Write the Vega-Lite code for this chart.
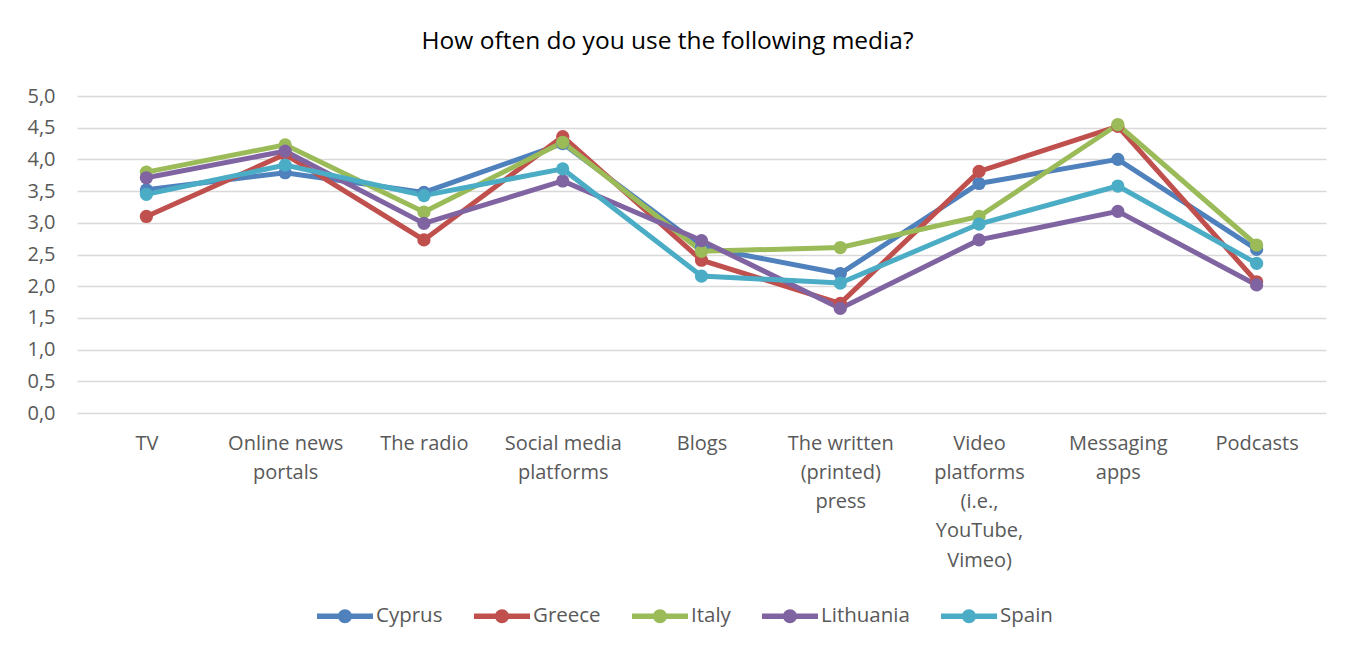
{
  "$schema": "https://vega.github.io/schema/vega-lite/v6.json",
  "autosize": {"type": "none"},
  "width": 1249,
  "height": 317,
  "padding": {"left": 77, "top": 96, "right": 34, "bottom": 238},
  "background": "white",
  "title": {
    "text": "How often do you use the following media?",
    "font": "Open Sans",
    "fontSize": 24.5,
    "fontWeight": "normal",
    "color": "#000000",
    "anchor": "middle",
    "dx": -34,
    "offset": 32
  },
  "config": {
    "view": {"stroke": null},
    "font": "Open Sans"
  },
  "data": {
    "values": [
      {"media": "TV", "country": "Cyprus", "value": 3.52},
      {"media": "Online news|portals", "country": "Cyprus", "value": 3.79},
      {"media": "The radio", "country": "Cyprus", "value": 3.48},
      {"media": "Social media|platforms", "country": "Cyprus", "value": 4.25},
      {"media": "Blogs", "country": "Cyprus", "value": 2.62},
      {"media": "The written|(printed)|press", "country": "Cyprus", "value": 2.2},
      {"media": "Video|platforms|(i.e.,|YouTube,|Vimeo)", "country": "Cyprus", "value": 3.62},
      {"media": "Messaging|apps", "country": "Cyprus", "value": 4.0},
      {"media": "Podcasts", "country": "Cyprus", "value": 2.58},

      {"media": "TV", "country": "Greece", "value": 3.1},
      {"media": "Online news|portals", "country": "Greece", "value": 4.08},
      {"media": "The radio", "country": "Greece", "value": 2.73},
      {"media": "Social media|platforms", "country": "Greece", "value": 4.36},
      {"media": "Blogs", "country": "Greece", "value": 2.41},
      {"media": "The written|(printed)|press", "country": "Greece", "value": 1.73},
      {"media": "Video|platforms|(i.e.,|YouTube,|Vimeo)", "country": "Greece", "value": 3.81},
      {"media": "Messaging|apps", "country": "Greece", "value": 4.52},
      {"media": "Podcasts", "country": "Greece", "value": 2.07},

      {"media": "TV", "country": "Italy", "value": 3.8},
      {"media": "Online news|portals", "country": "Italy", "value": 4.23},
      {"media": "The radio", "country": "Italy", "value": 3.17},
      {"media": "Social media|platforms", "country": "Italy", "value": 4.27},
      {"media": "Blogs", "country": "Italy", "value": 2.55},
      {"media": "The written|(printed)|press", "country": "Italy", "value": 2.61},
      {"media": "Video|platforms|(i.e.,|YouTube,|Vimeo)", "country": "Italy", "value": 3.1},
      {"media": "Messaging|apps", "country": "Italy", "value": 4.55},
      {"media": "Podcasts", "country": "Italy", "value": 2.65},

      {"media": "TV", "country": "Lithuania", "value": 3.71},
      {"media": "Online news|portals", "country": "Lithuania", "value": 4.13},
      {"media": "The radio", "country": "Lithuania", "value": 2.99},
      {"media": "Social media|platforms", "country": "Lithuania", "value": 3.66},
      {"media": "Blogs", "country": "Lithuania", "value": 2.72},
      {"media": "The written|(printed)|press", "country": "Lithuania", "value": 1.65},
      {"media": "Video|platforms|(i.e.,|YouTube,|Vimeo)", "country": "Lithuania", "value": 2.73},
      {"media": "Messaging|apps", "country": "Lithuania", "value": 3.18},
      {"media": "Podcasts", "country": "Lithuania", "value": 2.02},

      {"media": "TV", "country": "Spain", "value": 3.45},
      {"media": "Online news|portals", "country": "Spain", "value": 3.91},
      {"media": "The radio", "country": "Spain", "value": 3.43},
      {"media": "Social media|platforms", "country": "Spain", "value": 3.85},
      {"media": "Blogs", "country": "Spain", "value": 2.16},
      {"media": "The written|(printed)|press", "country": "Spain", "value": 2.05},
      {"media": "Video|platforms|(i.e.,|YouTube,|Vimeo)", "country": "Spain", "value": 2.98},
      {"media": "Messaging|apps", "country": "Spain", "value": 3.58},
      {"media": "Podcasts", "country": "Spain", "value": 2.36}
    ]
  },
  "encoding": {
    "x": {
      "field": "media",
      "type": "nominal",
      "sort": null,
      "scale": {"type": "point", "padding": 0.5},
      "axis": {
        "title": null,
        "labelAngle": 0,
        "labelExpr": "split(datum.label, '|')",
        "labelFontSize": 20,
        "labelColor": "#595959",
        "labelLineHeight": 29.3,
        "labelPadding": 20,
        "labelBaseline": "top",
        "labelOverlap": false,
        "labelLimit": 0,
        "domain": false,
        "ticks": false,
        "grid": false
      }
    },
    "y": {
      "field": "value",
      "type": "quantitative",
      "scale": {"domain": [0, 5], "nice": false},
      "axis": {
        "title": null,
        "values": [0, 0.5, 1, 1.5, 2, 2.5, 3, 3.5, 4, 4.5, 5],
        "labelExpr": "replace(format(datum.value, '.1f'), '.', ',')",
        "labelFontSize": 20,
        "labelColor": "#595959",
        "labelPadding": 22,
        "domain": false,
        "ticks": false,
        "grid": true,
        "gridColor": "#d9d9d9",
        "gridWidth": 1.3
      }
    },
    "color": {
      "field": "country",
      "type": "nominal",
      "scale": {
        "domain": ["Cyprus", "Greece", "Italy", "Lithuania", "Spain"],
        "range": ["#4F81BD", "#C0504D", "#9BBB59", "#8064A2", "#4BACC6"]
      },
      "legend": {
        "title": null,
        "orient": "none",
        "legendX": 240,
        "legendY": 492,
        "direction": "horizontal",
        "labelFontSize": 20.5,
        "labelColor": "#595959",
        "labelOffset": 3,
        "columnPadding": 31,
        "symbolType": "M-1,-0.1L1,-0.1L1,0.1L-1,0.1Z M0.25,0A0.25,0.25,0,1,1,-0.25,0A0.25,0.25,0,1,1,0.25,0Z",
        "symbolSize": 3136,
        "symbolStrokeWidth": 0,
        "symbolOpacity": 1
      }
    }
  },
  "layer": [
    {"mark": {"type": "line", "strokeWidth": 5}},
    {"mark": {"type": "circle", "size": 175, "opacity": 1}}
  ]
}
